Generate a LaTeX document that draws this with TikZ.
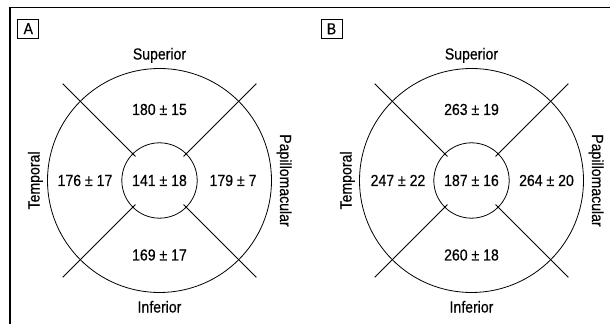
\documentclass[tikz,border=0pt]{standalone}
\usepackage{fontspec}
\setmainfont{Liberation Sans}[FakeStretch=0.88,FakeBold=0.4]

\tikzset{
  lbl/.style={font=\fontsize{16}{19}\selectfont, inner sep=0pt, anchor=base},
  ring/.style={line width=0.8pt},
  spoke/.style={line width=1pt},
  tag/.style={draw, line width=0.8pt, minimum width=21pt, minimum height=19pt, inner sep=0pt, font=\fontsize{16}{19}\selectfont}
}

\begin{document}
\begin{tikzpicture}[x=1pt,y=1pt]
\useasboundingbox (0,0) rectangle (610,324);
\draw[line width=1.2pt] (10,0)--(10,316.5);
\draw[line width=1.7pt] (9.4,316.5)--(610,316.5);

% panel A
\node[tag] (tagA) at (28.3,295.3) {A};
\begin{scope}[shift={(159.5,143.5)}]
  \draw[ring] (0,0) circle (112pt);
  \draw[ring] (0,0) circle (37.7pt);
  \foreach \a in {45,135,225,315}
    \draw[spoke] (\a:34pt)--(\a:137pt);
  \node[lbl] (supA) at (0,121) {Superior};
  \node[lbl] (infA) at (0,-132) {Inferior};
  \node[lbl, rotate=90] (tmpA) at (-120,0) {Temporal};
  \node[lbl, rotate=-90] (papA) at (120.5,0) {Papillomacular};
  \node[lbl] (sA) at (0,65.5) {180 ± 15};
  \node[lbl] (iA) at (0,-80) {169 ± 17};
  \node[lbl] (tA) at (-74.5,-5.5) {176 ± 17};
  \node[lbl] (cA) at (0,-5.5) {141 ± 18};
  \node[lbl] (pA) at (73.5,-5.5) {179 ± 7};
\end{scope}

% panel B
\node[tag] (tagB) at (331.5,295.2) {B};
\begin{scope}[shift={(471.5,143.5)}]
  \draw[ring] (0,0) circle (112pt);
  \draw[ring] (0,0) circle (37.7pt);
  \foreach \a in {45,135,225,315}
    \draw[spoke] (\a:34pt)--(\a:137pt);
  \node[lbl] (supB) at (0,121) {Superior};
  \node[lbl] (infB) at (0,-132) {Inferior};
  \node[lbl, rotate=90] (tmpB) at (-120,0) {Temporal};
  \node[lbl, rotate=-90] (papB) at (120.5,0) {Papillomacular};
  \node[lbl] (sB) at (0,65.5) {263 ± 19};
  \node[lbl] (iB) at (0,-80) {260 ± 18};
  \node[lbl] (tB) at (-73.5,-5.5) {247 ± 22};
  \node[lbl] (cB) at (0,-5.5) {187 ± 16};
  \node[lbl] (pB) at (75,-5.5) {264 ± 20};
\end{scope}
\end{tikzpicture}
\end{document}
